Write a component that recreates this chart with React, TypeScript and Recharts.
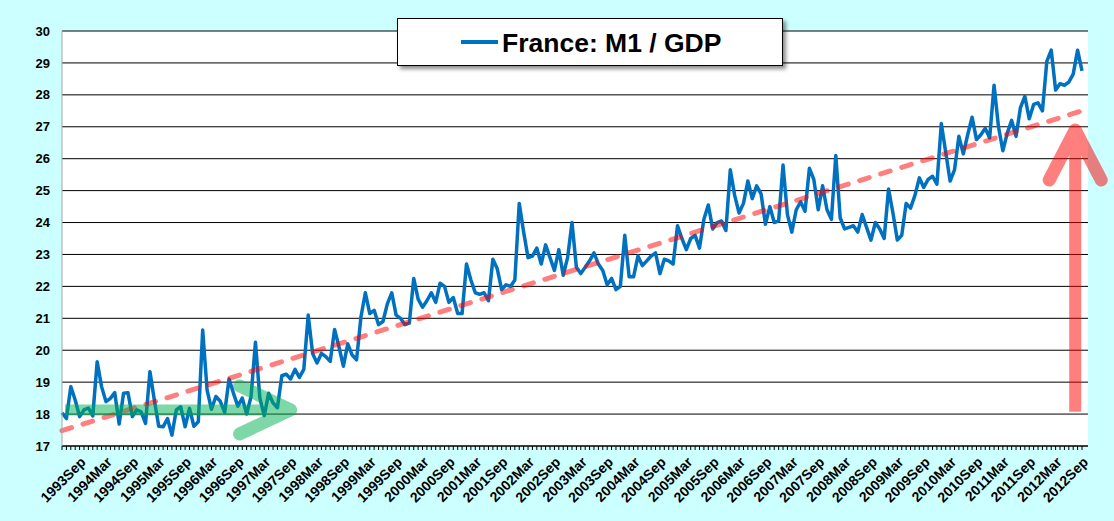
import React from "react";
import {
  LineChart,
  Line,
  XAxis,
  YAxis,
  CartesianGrid,
  ReferenceLine,
  Legend,
} from "recharts";

const MONTH_NAMES = ["Jan", "Feb", "Mar", "Apr", "May", "Jun", "Jul", "Aug", "Sep", "Oct", "Nov", "Dec"];

// France M1 / GDP, monthly from 1993May to 2012Sep
const m1ToGdp: number[] = [
  18.04, 17.86, 18.86, 18.44, 17.92, 18.13, 18.19, 17.94, 19.64, 18.86, 18.39, 18.49,
  18.67, 17.69, 18.65, 18.67, 17.92, 18.13, 18.07, 17.71, 19.33, 18.44, 17.62, 17.6,
  17.86, 17.34, 18.13, 18.23, 17.6, 18.18, 17.62, 17.76, 20.63, 18.75, 18.15, 18.55,
  18.4, 18.05, 19.1, 18.65, 18.25, 18.5, 18.0, 18.55, 20.25, 18.5, 17.95, 18.65,
  18.35, 18.2, 19.2, 19.25, 19.1, 19.4, 19.15, 19.4, 21.1, 19.9, 19.6, 19.9,
  19.8, 19.65, 20.65, 20.1, 19.5, 20.2, 19.85, 19.7, 21.05, 21.8, 21.15, 21.25,
  20.8, 20.9, 21.45, 21.8, 21.1, 21.0, 20.8, 20.85, 22.25, 21.6, 21.35, 21.55,
  21.8, 21.5, 22.1, 22.0, 21.5, 21.65, 21.15, 21.15, 22.7, 22.2, 21.8, 21.75,
  21.8, 21.55, 22.85, 22.55, 21.9, 22.05, 22.0, 22.2, 24.6, 23.7, 22.9, 22.95,
  23.2, 22.7, 23.3, 22.9, 22.5, 23.15, 22.35, 22.9, 24.0, 22.6, 22.4, 22.6,
  22.8, 23.05, 22.7, 22.5, 22.05, 22.25, 21.9, 22.0, 23.6, 22.3, 22.3, 22.95,
  22.65, 22.8, 22.95, 23.05, 22.4, 22.85, 22.8, 22.7, 23.9, 23.5, 23.15, 23.5,
  23.6, 23.2, 24.1, 24.55, 23.8, 24.0, 24.05, 23.75, 25.65, 24.85, 24.3, 24.6,
  25.3, 24.75, 25.15, 24.9, 23.95, 24.5, 24.0, 24.05, 25.8, 24.25, 23.7, 24.4,
  24.65, 24.35, 25.7, 25.35, 24.4, 25.15, 24.4, 24.1, 26.1, 24.15, 23.8, 23.85,
  23.9, 23.7, 24.25, 23.85, 23.45, 24.0, 23.8, 23.5, 25.05, 24.3, 23.45, 23.6,
  24.6, 24.45, 24.85, 25.4, 25.1, 25.35, 25.45, 25.2, 27.1, 26.2, 25.3, 25.65,
  26.7, 26.15, 26.75, 27.3, 26.6, 26.75, 26.95, 26.65, 28.3, 27.0, 26.25, 26.8,
  27.2, 26.7, 27.6, 27.95, 27.25, 27.7, 27.75, 27.5, 29.05, 29.4, 28.15, 28.35,
  28.3, 28.4, 28.65, 29.4, 28.75,
];

// month categories, 1993May ..
const categories: string[] = m1ToGdp.map((_, k) => {
  const t = 1993 * 12 + 4 + k;
  return Math.floor(t / 12) + MONTH_NAMES[t % 12];
});

const tickLabels = [
  "1993Sep", "1994Mar", "1994Sep", "1995Mar", "1995Sep", "1996Mar", "1996Sep",
  "1997Mar", "1997Sep", "1998Mar", "1998Sep", "1999Mar", "1999Sep", "2000Mar",
  "2000Sep", "2001Mar", "2001Sep", "2002Mar", "2002Sep", "2003Mar", "2003Sep",
  "2004Mar", "2004Sep", "2005Mar", "2005Sep", "2006Mar", "2006Sep", "2007Mar",
  "2007Sep", "2008Mar", "2008Sep", "2009Mar", "2009Sep", "2010Mar", "2010Sep",
  "2011Mar", "2011Sep", "2012Mar", "2012Sep",
];

const yTicks = [17, 18, 19, 20, 21, 22, 23, 24, 25, 26, 27, 28, 29, 30];

// dashed trend line ends
const trendStart = 17.48;
const trendEnd = 27.5;

// annotation arrows
const greenArrow = { from: "1993May", to: "1997Sep", level: 18.13 };
const redArrow = { at: "2012Jul", from: 18.07, to: 26.9 };

const data = categories.map((month, i) => ({ month, value: m1ToGdp[i] }));

function MonthTick({ x, y, payload }: any) {
  if (!tickLabels.includes(payload.value)) return null;
  const tx = x + 7;
  const ty = y + 11;
  return (
    <text
      x={tx}
      y={ty}
      textAnchor="end"
      fontSize={14}
      fontWeight="bold"
      fill="#000"
      transform={`rotate(-45 ${tx} ${ty})`}
    >
      {payload.value}
    </text>
  );
}

function GreenArrowShape({ x1, y1, x2, y2 }: any) {
  return (
    <g opacity={0.5}>
      <line x1={x1 + 3} y1={y1} x2={x2 - 4} y2={y2} stroke="#00B050" strokeWidth={11} />
      <polyline
        points={`${x2 - 51},${y2 - 24} ${x2},${y2} ${x2 - 51},${y2 + 24}`}
        fill="none"
        stroke="#00B050"
        strokeWidth={13}
        strokeLinecap="round"
        strokeLinejoin="round"
      />
    </g>
  );
}

function RedArrowShape({ x1, y1, x2, y2 }: any) {
  // y1 is the bottom, y2 the tip
  const bx = x1 + 2;
  const tx = x2 + 2;
  return (
    <g opacity={0.5}>
      <line x1={bx} y1={y1} x2={tx} y2={y2 + 4} stroke="#FF0000" strokeWidth={12} />
      <polyline
        points={`${tx - 26},${y2 + 50} ${tx},${y2} ${tx + 26},${y2 + 50}`}
        fill="none"
        stroke="#FF0000"
        strokeWidth={13}
        strokeLinecap="round"
        strokeLinejoin="round"
      />
    </g>
  );
}

function TitleBox() {
  return (
    <div
      style={{
        width: 386,
        height: 48,
        background: "#fff",
        border: "1.5px solid #000",
        boxSizing: "border-box",
        boxShadow: "3px 3px 4px rgba(0,0,0,0.45)",
      }}
    >
      <svg width={383} height={45} style={{ display: "block" }}>
        <line x1={63} y1={23} x2={100} y2={23} stroke="#0070C0" strokeWidth={4} />
        <text x={104} y={33} fontSize={26.5} fontWeight="bold" fill="#000">
          France: M1 / GDP
        </text>
      </svg>
    </div>
  );
}

export default function App() {
  const last = categories[categories.length - 1];
  return (
    <div
      style={{
        position: "absolute",
        left: 0,
        top: 0,
        width: 1114,
        height: 521,
        background: "#CCFFFF",
        fontFamily: "'Liberation Sans', Arial, sans-serif",
      }}
    >
      <LineChart
        width={1114}
        height={521}
        data={data}
        margin={{ top: 31, right: 26, bottom: 0, left: 0 }}
      >
        <CartesianGrid vertical={false} stroke="#000" fill="#fff" fillOpacity={1} />
        <XAxis
          dataKey="month"
          scale="point"
          interval={0}
          height={75}
          tickSize={4}
          padding={{ left: 0, right: 6 }}
          axisLine={{ stroke: "#000" }}
          tickLine={{ stroke: "#000" }}
          tick={<MonthTick />}
        />
        <XAxis
          xAxisId="top"
          orientation="top"
          dataKey="month"
          scale="point"
          height={0}
          tick={false}
          tickLine={false}
          axisLine={{ stroke: "#8C8C8C" }}
        />
        <YAxis
          domain={[17, 30]}
          ticks={yTicks}
          interval={0}
          width={62}
          tickSize={0}
          tickMargin={12}
          tickLine={false}
          axisLine={{ stroke: "#A6A6A6" }}
          tick={{ fill: "#000", fontSize: 13, fontWeight: "bold" }}
        />
        <YAxis
          yAxisId="right"
          orientation="right"
          domain={[17, 30]}
          width={0}
          tick={false}
          tickLine={false}
          axisLine={{ stroke: "#000" }}
        />
        <Legend
          layout="horizontal"
          verticalAlign="middle"
          align="center"
          wrapperStyle={{ left: 397, top: 18, width: 386, height: 48 }}
          content={() => <TitleBox />}
        />
        <Line
          type="linear"
          dataKey="value"
          name="France: M1 / GDP"
          stroke="#0070C0"
          strokeWidth={3.5}
          strokeLinejoin="round"
          dot={false}
          activeDot={false}
          isAnimationActive={false}
        />
        <ReferenceLine
          segment={[
            { x: categories[0], y: trendStart },
            { x: last, y: trendEnd },
          ]}
          stroke="#FF0000"
          strokeOpacity={0.5}
          strokeWidth={5}
          strokeDasharray="10 12"
          strokeLinecap="round"
        />
        <ReferenceLine
          segment={[
            { x: greenArrow.from, y: greenArrow.level },
            { x: greenArrow.to, y: greenArrow.level },
          ]}
          shape={<GreenArrowShape />}
        />
        <ReferenceLine
          segment={[
            { x: redArrow.at, y: redArrow.from },
            { x: redArrow.at, y: redArrow.to },
          ]}
          shape={<RedArrowShape />}
        />
      </LineChart>
    </div>
  );
}
